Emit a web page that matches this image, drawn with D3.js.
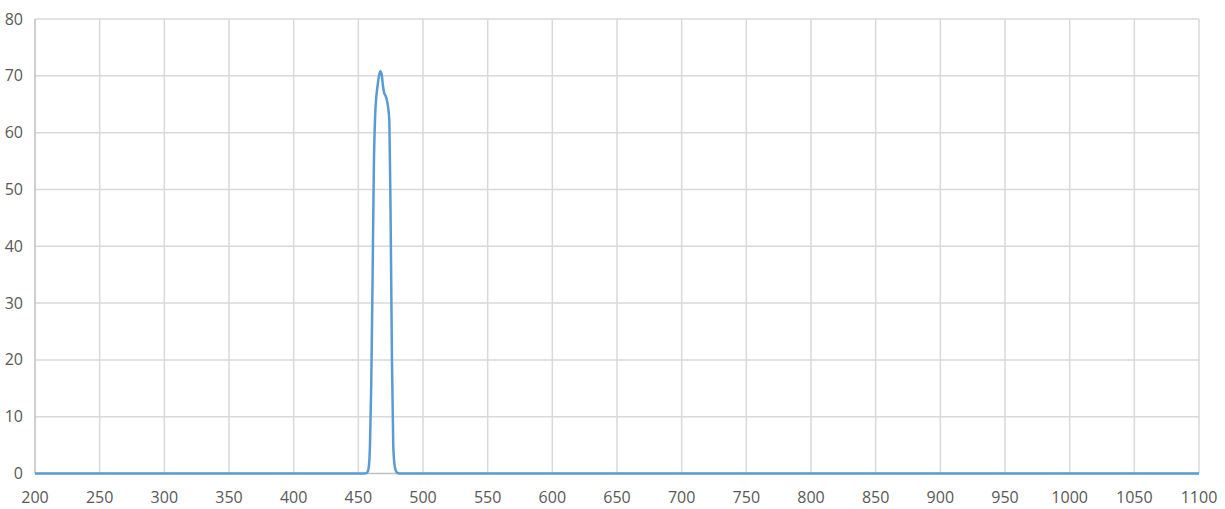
<!DOCTYPE html>
<meta charset="utf-8">
<style>
body { margin: 0; background: #fff; }
text { font: 16px "Open Sans", sans-serif; fill: #595959; }
</style>
<svg width="1225" height="509"></svg>
<script src="https://d3js.org/d3.v7.min.js"></script>
<script>

// wavelength (nm) and transmission (%)
var wavelength = [200, 300, 400, 450, 455, 456, 457, 458, 459, 460, 461, 462, 463, 464, 465, 466, 467, 468,
                  469, 470, 471, 472, 473, 474, 475, 476, 477, 478, 479, 480, 481, 482, 500, 700, 900, 1100];
var transmission = [0, 0, 0, 0, 0, 0.05, 0.2, 1, 5, 16, 34, 54, 63, 66.5, 68.5, 70, 70.8, 70.3,
                    68.3, 67, 66.5, 65.8, 64.5, 62, 44, 20, 5, 1.5, 0.5, 0.15, 0.05, 0, 0, 0, 0, 0];

var xTicks = d3.range(200, 1101, 50);
var yTicks = d3.range(0, 81, 10);

var data = wavelength.map((w, i) => ({x: w, y: transmission[i]}));

var svg = d3.select("svg");

var x = d3.scaleLinear().domain([200, 1100]).range([35, 1199]);
var y = d3.scaleLinear().domain([0, 80]).range([473.5, 19]);

// gridlines
svg.append("g")
  .selectAll("line.h")
  .data(yTicks.slice(1))
  .join("line")
    .attr("x1", x(200)).attr("x2", x(1100))
    .attr("y1", d => y(d)).attr("y2", d => y(d))
    .attr("stroke", "#d9d9d9").attr("stroke-width", 1.5);

svg.append("g")
  .selectAll("line.v")
  .data(xTicks.slice(1))
  .join("line")
    .attr("x1", d => x(d)).attr("x2", d => x(d))
    .attr("y1", y(0)).attr("y2", y(80))
    .attr("stroke", "#d9d9d9").attr("stroke-width", 1.5);

// axes lines
svg.append("line")
  .attr("x1", x(200)).attr("x2", x(200))
  .attr("y1", y(0)).attr("y2", y(80))
  .attr("stroke", "#bfbfbf").attr("stroke-width", 1.5);
svg.append("line")
  .attr("x1", x(200)).attr("x2", x(1100))
  .attr("y1", y(0)).attr("y2", y(0))
  .attr("stroke", "#bfbfbf").attr("stroke-width", 1.5);

// tick labels
svg.append("g")
  .selectAll("text")
  .data(yTicks)
  .join("text")
    .attr("x", 23)
    .attr("y", d => y(d))
    .attr("dy", "0.35em")
    .attr("text-anchor", "end")
    .text(d => d);

svg.append("g")
  .selectAll("text")
  .data(xTicks)
  .join("text")
    .attr("x", d => x(d))
    .attr("y", 497.5)
    .attr("dy", "0.35em")
    .attr("text-anchor", "middle")
    .text(d => d);

// curve
var line = d3.line()
  .x(d => x(d.x))
  .y(d => y(d.y))
  .curve(d3.curveMonotoneX);

svg.append("path")
  .datum(data)
  .attr("fill", "none")
  .attr("stroke", "#5b9bd5")
  .attr("stroke-width", 2.5)
  .attr("stroke-linejoin", "round")
  .attr("d", line);

</script>
